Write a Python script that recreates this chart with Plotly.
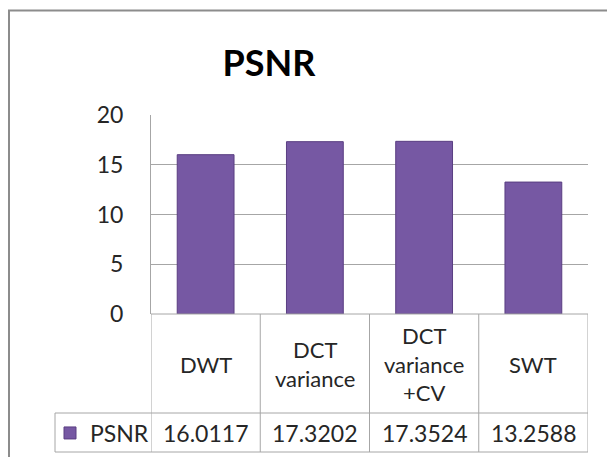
import plotly.graph_objects as go

# ---- data ----
series_name = "PSNR"
categories = ["DWT", "DCT variance", "DCT variance +CV", "SWT"]
category_labels = ["DWT", "DCT<br>variance", "DCT<br>variance<br>+CV", "SWT"]
values = [16.0117, 17.3202, 17.3524, 13.2588]
y_ticks = [0, 5, 10, 15, 20]

W, H = 607, 457
L, R, T, B = 151, 588, 115, 314  # plot area pixels
FONT = "Lato, 'Open Sans', sans-serif"
TXT = "#262626"
GRID = "#A6A6A6"


def px_x(px):
    return (px - L) / (R - L)


def px_y(py):
    return (B - py) / (B - T)


fig = go.Figure()
fig.add_trace(go.Bar(
    x=categories, y=values, name=series_name,
    marker=dict(color="#7658A3", line=dict(color="#5A3E82", width=1)),
    showlegend=True,
))

fig.update_layout(
    width=W, height=H,
    margin=dict(l=L, r=W - R, t=T, b=H - B, autoexpand=False),
    paper_bgcolor="white", plot_bgcolor="white",
    bargap=0.48,
    font=dict(family=FONT, color=TXT, size=23),
    title=dict(text="<b>PSNR</b>", x=269 / W, xanchor="center",
               y=(H - 63) / H, yanchor="middle",
               font=dict(family=FONT, size=36, color="#000000")),
    xaxis=dict(range=[-0.5, 3.5], showticklabels=False, showgrid=False,
               zeroline=False, showline=False, fixedrange=True),
    yaxis=dict(range=[0, 20], tickvals=y_ticks, showgrid=True, gridcolor=GRID,
               gridwidth=1, zeroline=False, showline=True, linecolor=GRID,
               ticks="", ticklabelstandoff=22, fixedrange=True,
               tickfont=dict(family=FONT, size=23, color=TXT)),
    legend=dict(x=px_x(50), y=px_y(433), xanchor="left", yanchor="middle",
                xref="paper", yref="paper", bgcolor="rgba(0,0,0,0)",
                font=dict(family=FONT, size=23, color=TXT),
                itemwidth=30, borderwidth=0),
)

shapes = []
line = dict(color=GRID, width=1)
# outer chart frame (clipped on right/bottom like the reference)
shapes.append(dict(type="rect", xref="paper", yref="paper",
                   x0=px_x(9), x1=px_x(640), y0=px_y(490), y1=px_y(10.5),
                   line=dict(color="#8C8C8C", width=2), layer="below"))
# data table horizontal lines
shapes.append(dict(type="line", xref="paper", yref="paper", x0=0, x1=1,
                   y0=0, y1=0, line=line))
for py in (413, 452):
    shapes.append(dict(type="line", xref="paper", yref="paper",
                       x0=px_x(55), x1=1, y0=px_y(py), y1=px_y(py), line=line))
# left edge of legend cell
shapes.append(dict(type="line", xref="paper", yref="paper",
                   x0=px_x(55), x1=px_x(55), y0=px_y(413), y1=px_y(452), line=line))
# vertical column dividers (category boundaries)
for i in range(len(categories) + 1):
    shapes.append(dict(type="line", xref="x", yref="paper",
                       x0=i - 0.5, x1=i - 0.5, y0=0, y1=px_y(452), line=line))
fig.update_layout(shapes=shapes)

# category labels and value row
for cat, lab, v in zip(categories, category_labels, values):
    fig.add_annotation(x=cat, xref="x", y=px_y(364), yref="paper",
                       text=lab, showarrow=False, yanchor="middle",
                       font=dict(family=FONT, size=22, color=TXT))
    fig.add_annotation(x=cat, xref="x", y=px_y(433), yref="paper",
                       text=f"{v:.4f}", showarrow=False, yanchor="middle",
                       font=dict(family=FONT, size=23, color=TXT))

fig.write_html("out.html",
               config={"displayModeBar": False},
               post_script="document.body.style.margin='0';")
